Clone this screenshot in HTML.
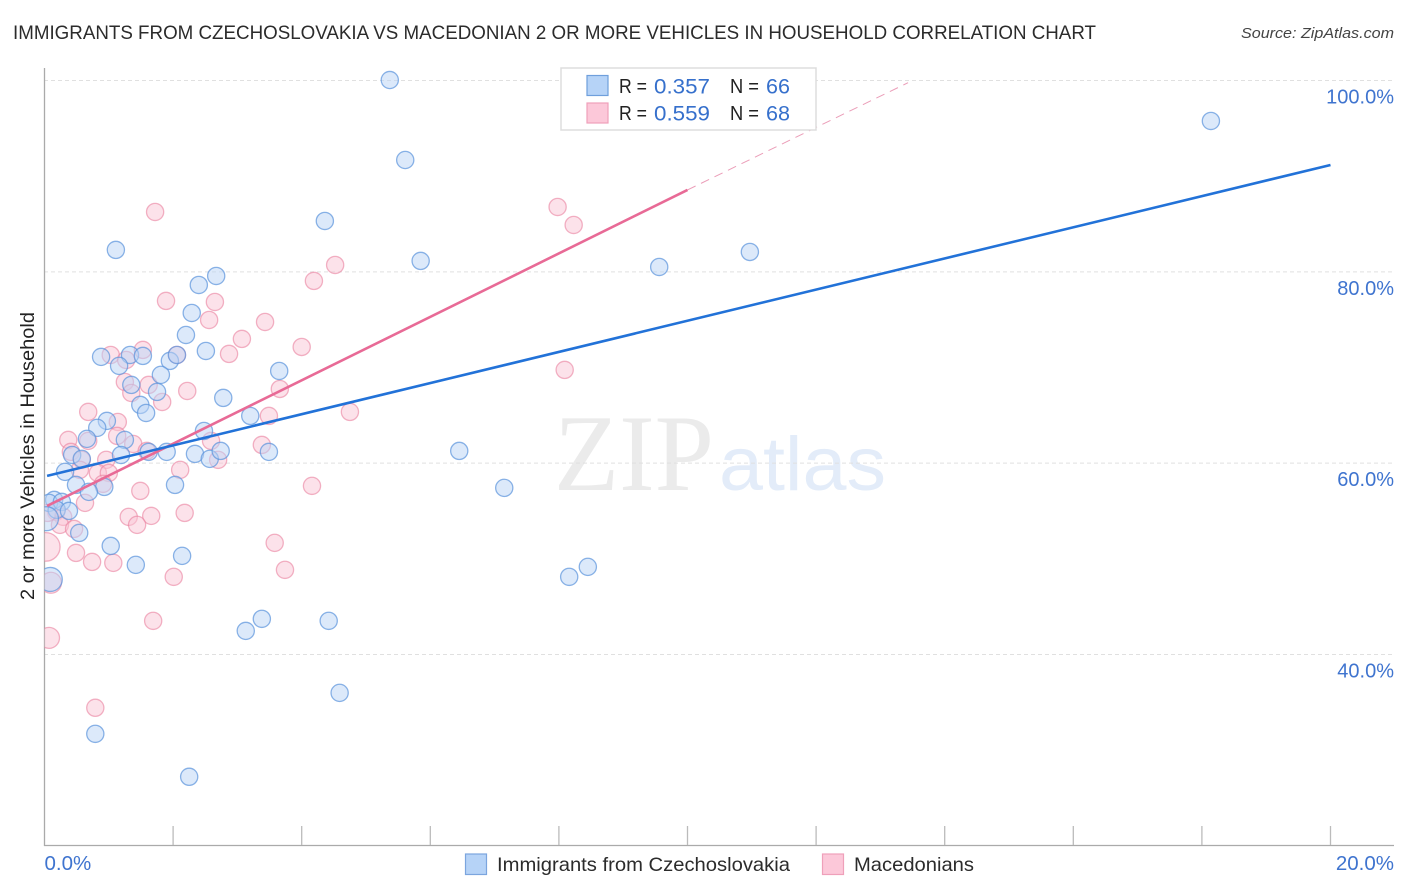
<!DOCTYPE html>
<html lang="en">
<head>
<meta charset="utf-8">
<title>Immigrants from Czechoslovakia vs Macedonian 2 or more Vehicles in Household Correlation Chart</title>
<style>
html,body{margin:0;padding:0;background:#fff;width:1406px;height:892px;overflow:hidden}
svg{display:block}
text{font-family:"Liberation Sans",sans-serif}
</style>
</head>
<body>
<svg id="chart" width="1406" height="892" viewBox="0 0 1406 892" xmlns="http://www.w3.org/2000/svg">
  <defs>
    <clipPath id="plot-clip"><rect x="44.5" y="60" width="1350" height="786"/></clipPath>
  </defs>
  <rect width="1406" height="892" fill="#fff"/>
  <text x="13" y="39" font-size="19" fill="#2b2b2b" textLength="1083" lengthAdjust="spacingAndGlyphs">IMMIGRANTS FROM CZECHOSLOVAKIA VS MACEDONIAN 2 OR MORE VEHICLES IN HOUSEHOLD CORRELATION CHART</text>
  <text x="1241" y="38" font-size="15" font-style="italic" fill="#444" textLength="153" lengthAdjust="spacingAndGlyphs">Source: ZipAtlas.com</text>

  <text x="554" y="490" font-size="109" fill="#ebebeb" style="font-family:'Liberation Serif',serif" textLength="160" lengthAdjust="spacingAndGlyphs">ZIP</text>
  <text x="719" y="490" font-size="76" fill="#e3ecf9" textLength="167" lengthAdjust="spacingAndGlyphs">atlas</text>

  <g id="grid"></g>
  <g id="axes"></g>
  <g id="pink-points" clip-path="url(#plot-clip)"></g>
  <g id="blue-points" clip-path="url(#plot-clip)"></g>
  <g id="trends"></g>
  <g id="labels"></g>

  <text transform="translate(34,456) rotate(-90)" font-size="19.5" fill="#222" text-anchor="middle" textLength="288" lengthAdjust="spacingAndGlyphs">2 or more Vehicles in Household</text>

  <g>
    <rect x="561" y="68" width="255" height="62" fill="#fff" stroke="#ddd" stroke-width="1.5"/>
    <rect x="587" y="75.5" width="21" height="20" fill="#b6d3f7" stroke="#6f9fdc" stroke-width="1.2"/>
    <rect x="587" y="103" width="21" height="20" fill="#fcc8d9" stroke="#efa0ba" stroke-width="1.2"/>
    <text x="619" y="93" font-size="20" fill="#222" textLength="28" lengthAdjust="spacingAndGlyphs">R =</text>
    <text x="654" y="93.5" font-size="21.5" fill="#3670cc" textLength="56" lengthAdjust="spacingAndGlyphs">0.357</text>
    <text x="730" y="93" font-size="20" fill="#222" textLength="29" lengthAdjust="spacingAndGlyphs">N =</text>
    <text x="766" y="93.5" font-size="21.5" fill="#3670cc" textLength="24" lengthAdjust="spacingAndGlyphs">66</text>
    <text x="619" y="120" font-size="20" fill="#222" textLength="28" lengthAdjust="spacingAndGlyphs">R =</text>
    <text x="654" y="120.5" font-size="21.5" fill="#3670cc" textLength="56" lengthAdjust="spacingAndGlyphs">0.559</text>
    <text x="730" y="120" font-size="20" fill="#222" textLength="29" lengthAdjust="spacingAndGlyphs">N =</text>
    <text x="766" y="120.5" font-size="21.5" fill="#3670cc" textLength="24" lengthAdjust="spacingAndGlyphs">68</text>
  </g>

  <g>
    <rect x="465.5" y="854" width="21" height="20.5" fill="#b6d3f7" stroke="#7ba5de" stroke-width="1.2"/>
    <text x="497" y="871" font-size="19.5" fill="#2b2b2b" textLength="293" lengthAdjust="spacingAndGlyphs">Immigrants from Czechoslovakia</text>
    <rect x="822.5" y="854" width="21" height="20.5" fill="#fcc8d9" stroke="#efa0ba" stroke-width="1.2"/>
    <text x="854" y="871" font-size="19.5" fill="#2b2b2b" textLength="120" lengthAdjust="spacingAndGlyphs">Macedonians</text>
  </g>
</svg>
<script>
const yTicks = [100, 80, 60, 40];
const yTickLabels = ["100.0%", "80.0%", "60.0%", "40.0%"];
const xTicks = [2, 4, 6, 8, 10, 12, 14, 16, 18, 20];
const xEndTickValues = [0, 20];
const xEndLabels = ["0.0%", "20.0%"];

const blueX = [5.37,18.14,5.61,4.36,1.11,5.85,9.56,10.97,2.67,2.40,2.29,2.20,2.51,0.88,1.33,1.53,1.95,2.06,1.16,1.81,3.65,1.35,2.78,1.75,1.49,1.58,3.20,0.97,0.82,2.48,0.66,1.25,1.19,1.62,1.90,2.34,2.57,2.74,3.49,6.45,0.43,0.58,0.32,0.49,0.93,0.69,2.03,7.15,0.15,0.07,0.27,0.19,0.38,0.54,1.03,2.14,1.42,8.16,8.45,3.13,3.38,4.42,4.59,0.79,2.25];
const blueY = [100.05,95.77,91.69,85.32,82.29,81.14,80.51,82.08,79.57,78.63,75.70,73.40,71.73,71.11,71.31,71.21,70.69,71.31,70.17,69.23,69.64,68.18,66.82,67.45,66.09,65.25,64.94,64.42,63.69,63.37,62.54,62.43,60.86,61.18,61.18,60.97,60.45,61.28,61.18,61.28,60.86,60.45,59.09,57.73,57.52,57.00,57.73,57.42,56.16,55.85,55.95,55.12,55.01,52.71,51.35,50.31,49.37,48.12,49.16,42.47,43.73,43.52,35.99,31.71,27.22];
const blueLargeX = [0.09, 0.03];
const blueLargeY = [47.85, 54.20];

const pinkX = [1.72,7.98,8.23,4.52,4.19,1.89,2.65,2.56,3.43,3.07,4.00,2.87,1.03,1.53,1.27,2.06,8.09,1.25,1.62,1.35,1.83,2.22,3.66,4.75,0.68,1.14,3.49,0.37,0.68,1.13,1.38,3.38,2.59,1.59,0.41,0.58,0.96,2.70,2.11,0.55,0.83,1.00,0.91,1.49,4.16,0.63,1.31,1.66,1.44,2.18,0.18,0.29,0.24,0.46,0.05,0.49,0.74,1.07,2.01,1.69,3.58,3.74,0.79];
const pinkY = [86.26,86.78,84.90,80.72,79.05,76.96,76.85,74.97,74.76,72.99,72.15,71.42,71.31,71.84,70.79,71.31,69.75,68.49,68.18,67.34,66.40,67.55,67.76,65.36,65.36,64.31,64.94,62.43,62.33,62.85,62.01,61.91,62.33,61.28,61.18,60.35,60.35,60.35,59.30,59.30,58.98,58.98,57.84,57.10,57.63,55.85,54.39,54.49,53.55,54.80,54.91,54.39,53.55,53.13,54.80,50.62,49.68,49.58,48.12,43.52,51.67,48.85,34.43];
const pinkLargeX = [0.10, 0.07];
const pinkLargeY = [47.50, 41.74];
const pinkHugeX = [0.02];
const pinkHugeY = [51.25];

const blueTrendX = [0.04, 20];
const blueTrendY = [58.67, 91.17];
const pinkTrendX = [0.04, 10];
const pinkTrendY = [55.53, 88.56];
const pinkDashX = [10, 13.43];
const pinkDashY = [88.56, 99.77];

const NS = 'http://www.w3.org/2000/svg';
function xScale(v) { return 44.5 + v * 64.3; }
function yScale(v) { return 80.5 + (100 - v) * 9.567; }

function make(parentId, tag, attrs) {
  const el = document.createElementNS(NS, tag);
  for (const k in attrs) el.setAttribute(k, attrs[k]);
  document.getElementById(parentId).appendChild(el);
  return el;
}

yTicks.forEach(function (t) {
  const el = make('grid', 'line', {x1: 44, x2: 1394, y1: yScale(t), y2: yScale(t), stroke: '#e0e0e0', 'stroke-width': 1, 'stroke-dasharray': '4 3'});
  
  
});

const yAxisLine = make('axes', 'line', {x1: 44.5, x2: 44.5, y1: 68, y2: 846, stroke: '#aaa', 'stroke-width': 1.3});


const xAxisLine = make('axes', 'line', {x1: 44, x2: 1394, y1: 845.5, y2: 845.5, stroke: '#aaa', 'stroke-width': 1.3});



xTicks.forEach(function (t) {
  const el = make('axes', 'line', {x1: xScale(t), x2: xScale(t), y1: 826, y2: 845, stroke: '#bbb', 'stroke-width': 1.3});
  
  
});

function drawPoints(parentId, xs, ys, r, fill, stroke, strokeOpacity, name) {
  xs.forEach(function (x, i) {
    const el = make(parentId, 'circle', {cx: xScale(x), cy: yScale(ys[i]), r: r, fill: fill, 'fill-opacity': 0.5, stroke: stroke, 'stroke-opacity': strokeOpacity, 'stroke-width': 1.3});
    
    
  });
}
drawPoints('pink-points', pinkX, pinkY, 8.6, '#f9c5d6', '#e9809f', 0.6, 'macedonians-point');
drawPoints('pink-points', pinkLargeX, pinkLargeY, 10.5, '#f9c5d6', '#e9809f', 0.6, 'macedonians-point-large');
drawPoints('pink-points', pinkHugeX, pinkHugeY, 14.3, '#f9c5d6', '#e9809f', 0.6, 'macedonians-point-huge');
drawPoints('blue-points', blueX, blueY, 8.6, '#b9d4f6', '#5a93dc', 0.7, 'czechoslovakia-point');
drawPoints('blue-points', blueLargeX, blueLargeY, 12, '#b9d4f6', '#5a93dc', 0.7, 'czechoslovakia-point-large');

function drawTrend(xs, ys, color, width, dash, name) {
  const el = make('trends', 'line', {x1: xScale(xs[0]), y1: yScale(ys[0]), x2: xScale(xs[1]), y2: yScale(ys[1]), stroke: color, 'stroke-width': width});
  if (dash) el.setAttribute('stroke-dasharray', dash);
  
  
}
drawTrend(pinkDashX, pinkDashY, '#eb9db8', 1, '9 6', 'macedonians-trend-extension');
drawTrend(pinkTrendX, pinkTrendY, '#e86a96', 2.6, '', 'macedonians-trend-line');
drawTrend(blueTrendX, blueTrendY, '#2272d8', 2.6, '', 'czechoslovakia-trend-line');

yTicks.forEach(function (t, i) {
  const el = make('labels', 'text', {x: 1394, y: yScale(t) + 23, 'font-size': 20, fill: '#3f74cf', 'text-anchor': 'end'});
  el.textContent = yTickLabels[i];
  
  
});
xEndTickValues.forEach(function (t, i) {
  const el = make('labels', 'text', {x: i === 0 ? xScale(t) : 1394, y: 870, 'font-size': 20.5, fill: '#3f74cf', 'text-anchor': i === 0 ? 'start' : 'end'});
  el.textContent = xEndLabels[i];
  
  
});
</script>
</body>
</html>
